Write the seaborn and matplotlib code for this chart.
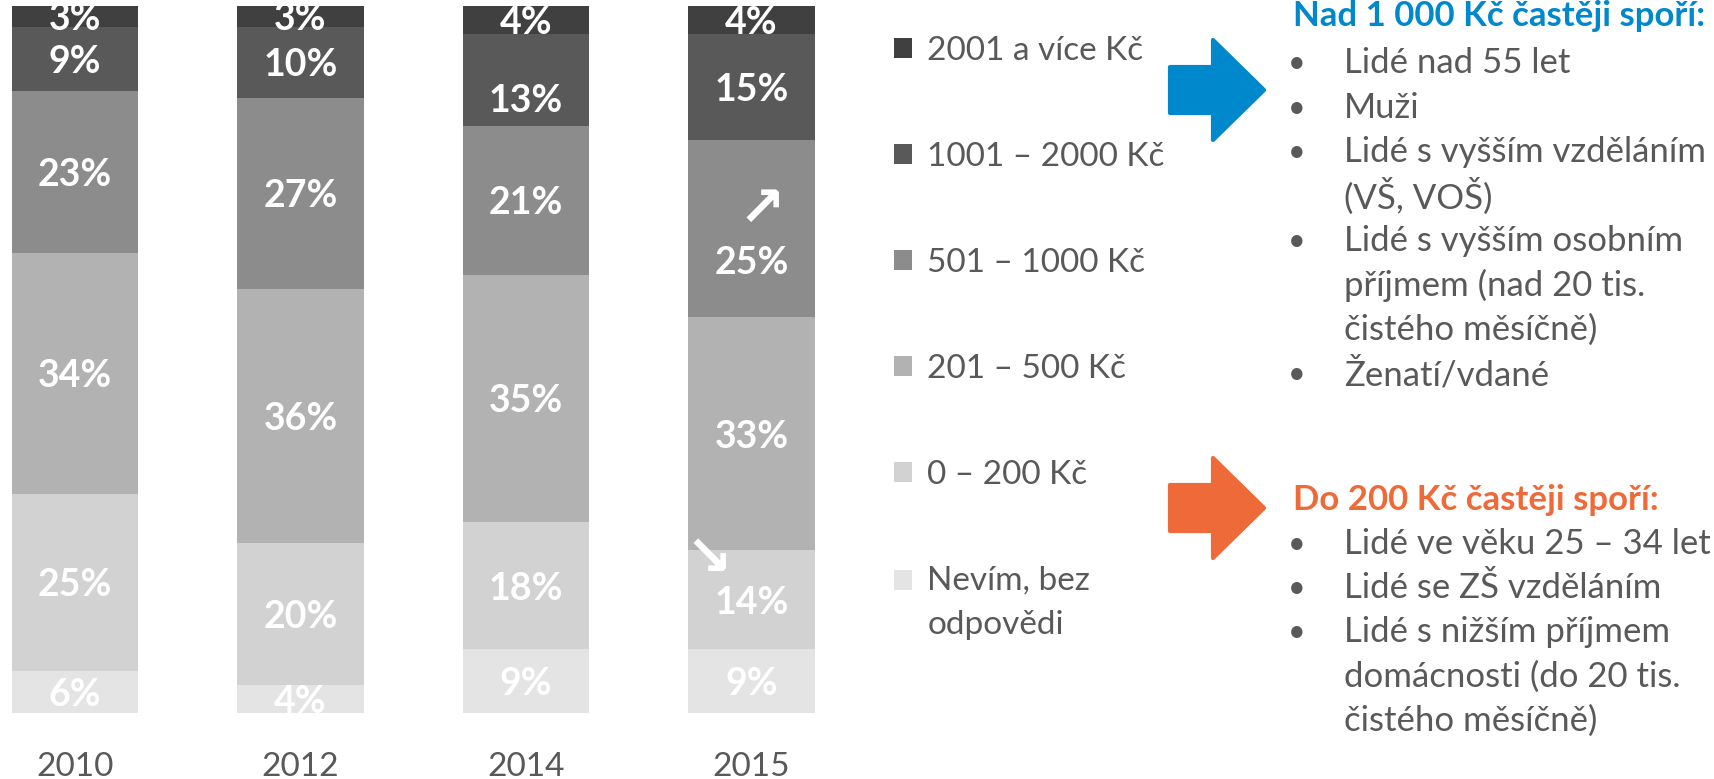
import matplotlib
matplotlib.use("Agg")
import matplotlib.pyplot as plt
from matplotlib.patches import Patch, Polygon, Rectangle
from matplotlib.legend_handler import HandlerPatch
import pandas as pd
import seaborn as sns

# data (bottom -> top of each bar)
years = ["2010", "2012", "2014", "2015"]
groups = ["Nevím, bez\nodpovědi", "0 – 200 Kč", "201 – 500 Kč",
          "501 – 1000 Kč", "1001 – 2000 Kč", "2001 a více Kč"]
nevim = [6, 4, 9, 9]
do_200 = [25, 20, 18, 14]
do_500 = [34, 36, 35, 33]
do_1000 = [23, 27, 21, 25]
do_2000 = [9, 10, 13, 15]
nad_2000 = [3, 3, 4, 4]

nad_1000_title = "Nad 1 000 Kč častěji spoří:"
nad_1000_items = ["Lidé nad 55 let", "Muži", "Lidé s vyšším vzděláním\n(VŠ, VOŠ)",
                  "Lidé s vyšším osobním\npříjmem (nad 20 tis.\nčistého měsíčně)",
                  "Ženatí/vdané"]
do_200_title = "Do 200 Kč častěji spoří:"
do_200_items = ["Lidé ve věku 25 – 34 let", "Lidé se ZŠ vzděláním",
                "Lidé s nižším příjmem\ndomácnosti (do 20 tis.\nčistého měsíčně)"]

colors = ["#e4e4e4", "#d2d2d2", "#b2b2b2", "#8c8c8c", "#595959", "#404040"]
TEXT = "#595959"
BLUE = "#0088cc"
ORANGE = "#ee6a38"

W, H = 1714, 779


def fx(px):
    return px / W


def fy(py):
    return (H - py) / H


sns.set_theme(style="white")
plt.rcParams["font.family"] = ["Lato", "DejaVu Sans"]

df = pd.DataFrame(dict(zip(groups, [nevim, do_200, do_500, do_1000, do_2000, nad_2000])),
                  index=years)
cum = df.cumsum(axis=1)

fig = plt.figure(figsize=(W / 100, H / 100), dpi=100)
# bar centres at 75 + 225.5*i px, plot bottom 713 px, top 6 px
x0, x1 = -0.32, 3.35
left_px = 75 + x0 * 225.5
ax = fig.add_axes([fx(left_px), fy(713), (x1 - x0) * 225.5 / W, (713 - 6) / H])

# stacked bars: draw cumulative totals from the top down
for i in reversed(range(len(groups))):
    sns.barplot(x=years, y=cum[groups[i]].values, color=colors[i], width=0.56,
                saturation=1, linewidth=0, ax=ax)

ax.set_xlim(x0, x1)
ax.set_ylim(0, 100)
ax.set_yticks([])
ax.set_ylabel("")
sns.despine(ax=ax, left=True, bottom=True)
ax.tick_params(axis="x", length=0, pad=28, labelsize=24, labelcolor=TEXT)

# nudges (in % units) for a few labels
nudge = {(2, 4): -2.6, (3, 3): -4.4}
for j, yr in enumerate(years):
    for i, g in enumerate(groups):
        v = df.loc[yr, g]
        y = cum.loc[yr, g] - v / 2 - 0.4 + nudge.get((j, i), 0)
        ax.text(j, y, f"{v}%", ha="center", va="center", color="white",
                fontsize=27, fontweight="bold", clip_on=True)

# trend arrows in 2015
ax.text(3 + 0.045, 71.0, "↗", ha="center", va="center", color="white",
        fontsize=40, fontweight="bold", family="DejaVu Sans")
ax.text(3 - 0.19, 21.6, "↘", ha="center", va="center", color="white",
        fontsize=40, fontweight="bold", family="DejaVu Sans")


# legend (top entry first); the two-line entry keeps its square on the first line
def first_line_square(legend, orig_handle, xdescent, ydescent, width, height, fontsize):
    return Rectangle((-xdescent, -ydescent + 17), width, height)


handles = [Patch(facecolor=c, edgecolor="none") for c in colors[::-1]]
leg = fig.legend(handles, groups[::-1], loc="upper left",
                 bbox_to_anchor=(fx(894), fy(36)), frameon=False, fontsize=24,
                 labelcolor=TEXT, handlelength=0.55, handleheight=0.55,
                 handletextpad=0.45, labelspacing=2.28, borderaxespad=0, borderpad=0,
                 handler_map={handles[-1]: HandlerPatch(patch_func=first_line_square)})
leg.get_texts()[-1].set_linespacing(1.6)


# block arrows
def block_arrow(cy, color):
    pts = [(1170, cy - 23), (1213, cy - 23), (1213, cy - 50), (1264, cy),
           (1213, cy + 50), (1213, cy + 23), (1170, cy + 23)]
    poly = Polygon([(fx(px), fy(py)) for px, py in pts], closed=True,
                   transform=fig.transFigure, facecolor=color, edgecolor=color,
                   linewidth=3, joinstyle="round")
    fig.add_artist(poly)


block_arrow(90, BLUE)
block_arrow(508, ORANGE)


def bullet_block(title, items, color, ty, first_gap, line_h):
    fig.text(fx(1293), fy(ty), title, color=color, fontsize=25,
             fontweight="bold", ha="left", va="center")
    y = ty + first_gap
    for item in items:
        lines = item.split("\n")
        fig.text(fx(1297), fy(y), "•", color=TEXT, fontsize=22,
                 ha="center", va="center")
        for ln in lines:
            fig.text(fx(1344), fy(y), ln, color=TEXT, fontsize=25,
                     ha="left", va="center")
            y += line_h


bullet_block(nad_1000_title, nad_1000_items, BLUE, 16, 47, 44.5)
bullet_block(do_200_title, do_200_items, ORANGE, 500, 44, 44.2)

fig.savefig("out.png", dpi=100)
